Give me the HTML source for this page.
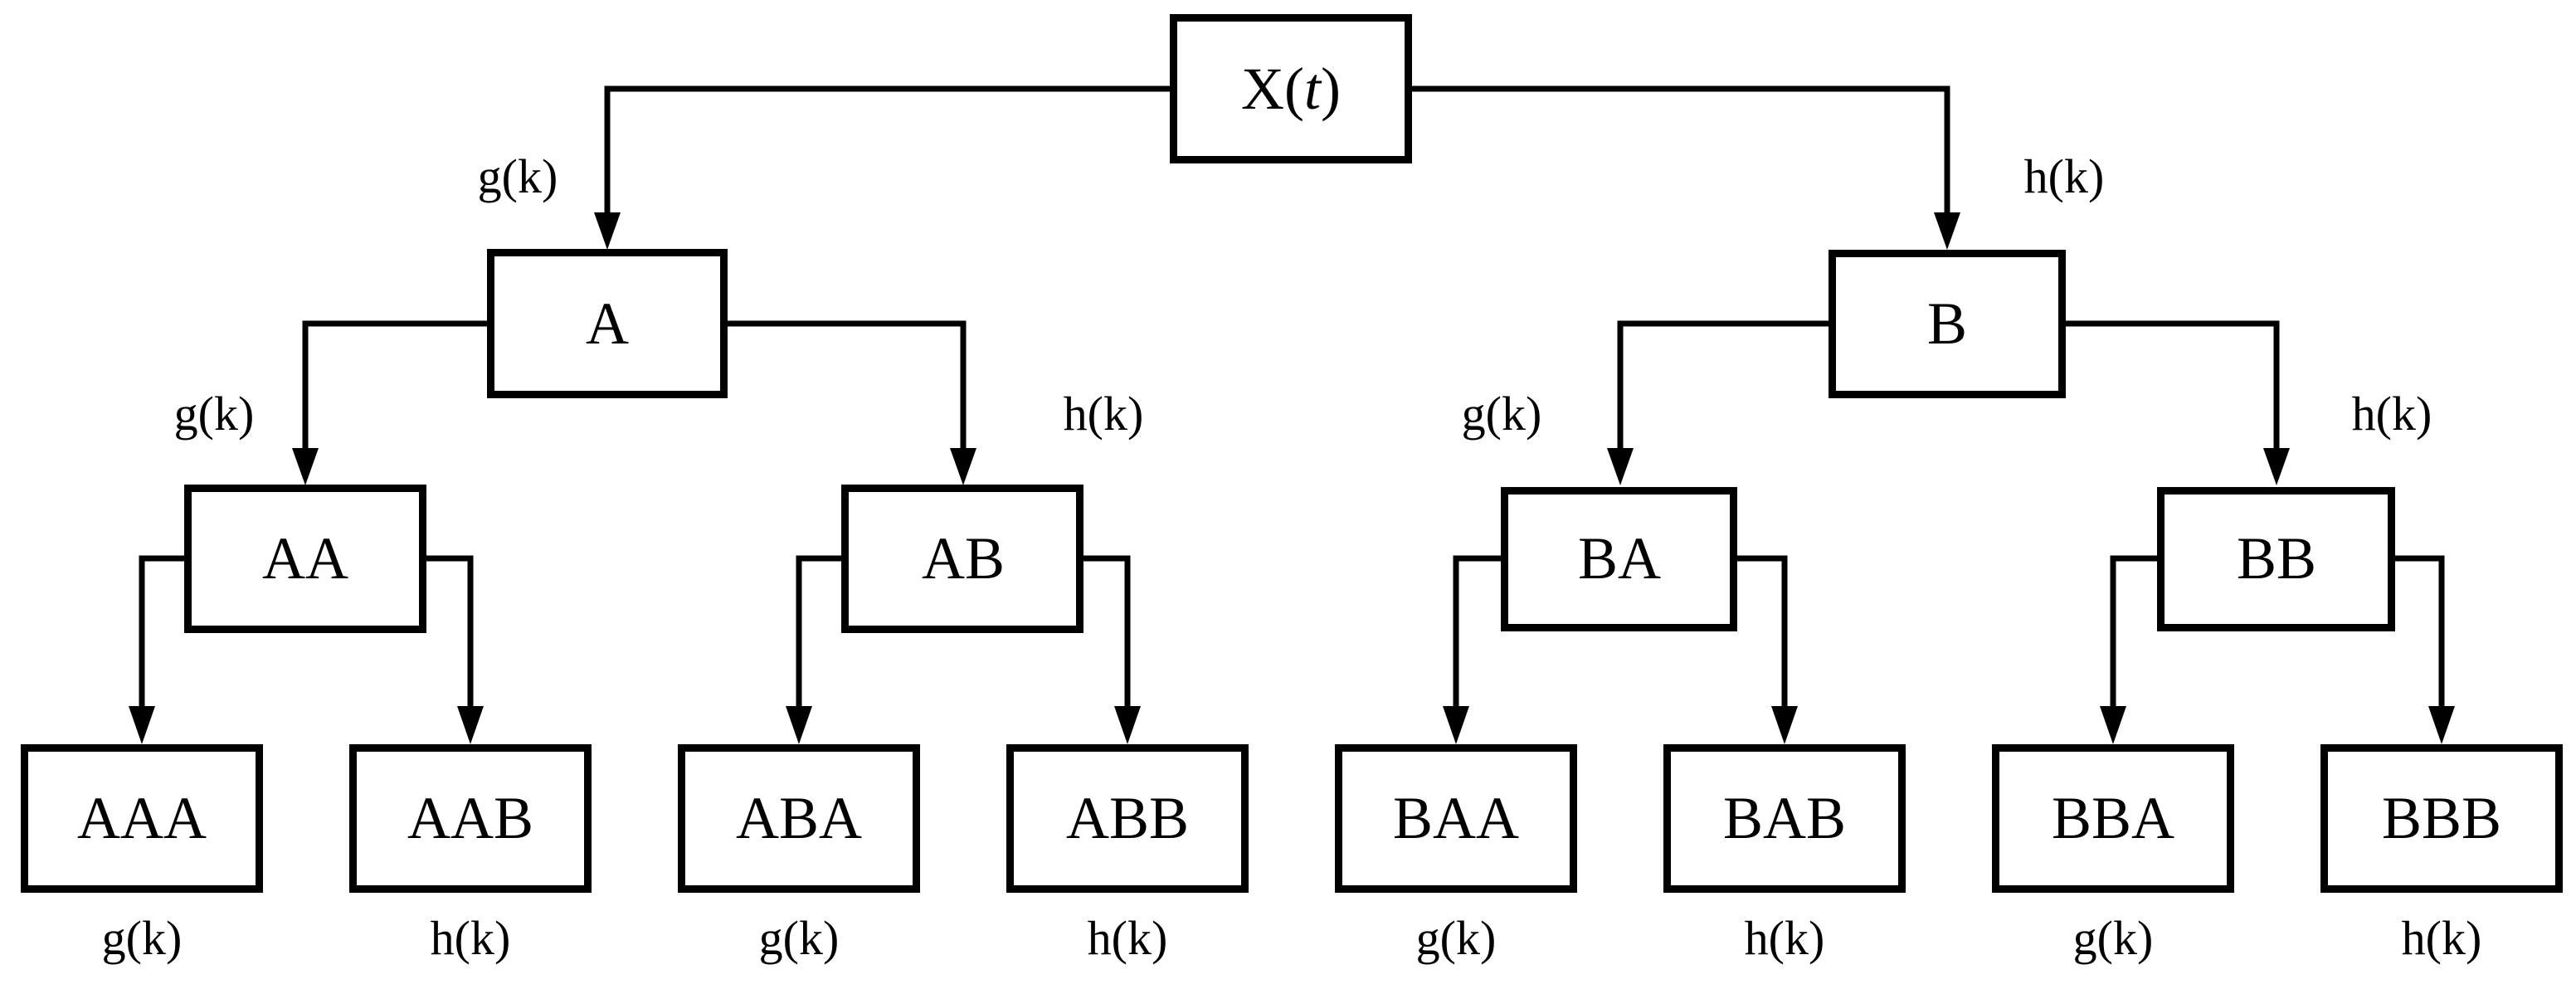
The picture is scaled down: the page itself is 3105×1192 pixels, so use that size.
<!DOCTYPE html>
<html><head><meta charset="utf-8"><style>
html,body{margin:0;padding:0;background:#fff;}
svg{display:block;}
text{font-family:"Liberation Serif",serif;fill:#000;}
.n{font-size:72px;text-anchor:middle;}
.l{font-size:58px;text-anchor:middle;}
</style></head><body>
<svg width="3105" height="1192" viewBox="0 0 3105 1192" xmlns="http://www.w3.org/2000/svg">
<defs>
<marker id="ah" viewBox="0 0 32 46" refX="16" refY="46" markerWidth="32" markerHeight="46" markerUnits="userSpaceOnUse" orient="auto-start-reverse">
</marker>
</defs>
<g fill="none" stroke="#000" stroke-width="7">
<!-- root connectors -->
<polyline points="1410,107 732,107 732,258"/>
<polyline points="1702,107 2347,107 2347,258"/>
<!-- A connectors -->
<polyline points="587,390 368,390 368,541"/>
<polyline points="877,390 1161,390 1161,541"/>
<!-- B connectors -->
<polyline points="2204,390 1953,390 1953,541"/>
<polyline points="2490,390 2744,390 2744,541"/>
<!-- level2 connectors -->
<polyline points="222,673 171,673 171,852"/>
<polyline points="514,673 567,673 567,852"/>
<polyline points="1014,673 963,673 963,852"/>
<polyline points="1306,673 1359,673 1359,852"/>
<polyline points="1809,673 1755,673 1755,852"/>
<polyline points="2094,673 2151,673 2151,852"/>
<polyline points="2600,673 2547,673 2547,852"/>
<polyline points="2887,673 2943,673 2943,852"/>
</g>
<g fill="#000">
<polygon points="716,256 748,256 732,301"/>
<polygon points="2331,256 2363,256 2347,301"/>
<polygon points="352,540 384,540 368,585"/>
<polygon points="1145,540 1177,540 1161,585"/>
<polygon points="1937,540 1969,540 1953,585"/>
<polygon points="2728,540 2760,540 2744,585"/>
<polygon points="155,851 187,851 171,897"/>
<polygon points="551,851 583,851 567,897"/>
<polygon points="947,851 979,851 963,897"/>
<polygon points="1343,851 1375,851 1359,897"/>
<polygon points="1739,851 1771,851 1755,897"/>
<polygon points="2135,851 2167,851 2151,897"/>
<polygon points="2531,851 2563,851 2547,897"/>
<polygon points="2927,851 2959,851 2943,897"/>
</g>
<g fill="#fff" stroke="#000" stroke-width="9">
<rect x="1414.5" y="21.5" width="283" height="171"/>
<rect x="591.5" y="304.5" width="281" height="171"/>
<rect x="2208.5" y="305.5" width="277" height="170"/>
<rect x="226.5" y="588.5" width="283" height="170"/>
<rect x="1018.5" y="588.5" width="283" height="170"/>
<rect x="1813.5" y="591.5" width="276" height="165"/>
<rect x="2604.5" y="591.5" width="278" height="165"/>
<rect x="29.5" y="901.5" width="283" height="170"/>
<rect x="425.5" y="901.5" width="283" height="170"/>
<rect x="821.5" y="901.5" width="283" height="170"/>
<rect x="1217.5" y="901.5" width="283" height="170"/>
<rect x="1613.5" y="901.5" width="283" height="170"/>
<rect x="2009.5" y="901.5" width="283" height="170"/>
<rect x="2405.5" y="901.5" width="283" height="170"/>
<rect x="2801.5" y="901.5" width="283" height="170"/>
</g>
<text class="n" x="1556" y="131">X(<tspan font-style="italic">t</tspan>)</text>
<text class="n" x="732" y="414">A</text>
<text class="n" x="2347" y="414">B</text>
<text class="n" x="368" y="697">AA</text>
<text class="n" x="1161" y="697">AB</text>
<text class="n" x="1952" y="697">BA</text>
<text class="n" x="2744" y="697">BB</text>
<text class="n" x="171" y="1010">AAA</text>
<text class="n" x="567" y="1010">AAB</text>
<text class="n" x="963" y="1010">ABA</text>
<text class="n" x="1359" y="1010">ABB</text>
<text class="n" x="1755" y="1010">BAA</text>
<text class="n" x="2151" y="1010">BAB</text>
<text class="n" x="2547" y="1010">BBA</text>
<text class="n" x="2943" y="1010">BBB</text>
<text class="l" x="624" y="232">g(k)</text>
<text class="l" x="2488" y="232">h(k)</text>
<text class="l" x="258" y="518">g(k)</text>
<text class="l" x="1330" y="518">h(k)</text>
<text class="l" x="1810" y="518">g(k)</text>
<text class="l" x="2883" y="518">h(k)</text>
<text class="l" x="171" y="1150">g(k)</text>
<text class="l" x="567" y="1150">h(k)</text>
<text class="l" x="963" y="1150">g(k)</text>
<text class="l" x="1359" y="1150">h(k)</text>
<text class="l" x="1755" y="1150">g(k)</text>
<text class="l" x="2151" y="1150">h(k)</text>
<text class="l" x="2547" y="1150">g(k)</text>
<text class="l" x="2943" y="1150">h(k)</text>
</svg>
</body></html>
